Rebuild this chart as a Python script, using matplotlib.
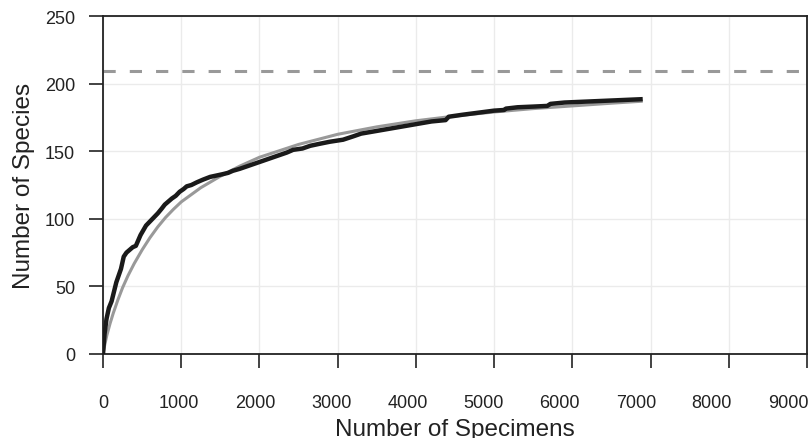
import matplotlib
matplotlib.use('Agg')
import matplotlib.pyplot as plt

# 累积曲线 (黑色) 数据
specimens = [0, 20, 45, 75, 110, 140, 170, 200, 230, 265, 300, 340, 380, 420, 450, 480, 510, 550, 600, 650,
             700, 750, 790, 840, 880, 930, 980, 1030, 1070, 1130, 1200, 1280, 1370, 1450, 1530, 1600, 1660, 1750, 1850, 1950,
             2050, 2150, 2250, 2350, 2430, 2550, 2650, 2771, 2900, 3069, 3200, 3300, 3450, 3600, 3750, 3900, 4050, 4200, 4380, 4420,
             4600, 4800, 5000, 5130, 5150, 5300, 5500, 5680, 5720, 5900, 6100, 6300, 6500, 6700, 6900]
species = [0, 15, 26, 34, 39, 46, 53, 58, 63, 72, 75, 77, 79, 80, 84, 88, 91, 95, 98, 101,
           104, 107.5, 110.5, 113, 115, 117, 120, 122, 124, 125, 127, 129, 131, 132, 133, 134, 135.5, 137, 139, 141,
           143, 145, 147, 149, 151, 152, 154, 155.5, 157, 158.5, 161, 163, 164.5, 166, 167.5, 169, 170.5, 172, 173, 175.5,
           177, 178.5, 180, 180.5, 181.5, 182.5, 183, 183.5, 185, 186, 186.5, 187, 187.5, 188, 188.5]

# 拟合曲线 (灰色)
fit_x = [0, 10, 25, 50, 90, 130, 190, 250, 320, 400, 500, 600, 700, 800, 900, 1000, 1250, 1500, 1750, 2000,
         2500, 3000, 3500, 4000, 4500, 5000, 5500, 6000, 6500, 6900]
fit_y = [0, 3, 7.5, 14, 22.5, 30, 40, 49, 58, 67, 77, 86, 94, 101, 107, 112.5, 123, 131.5, 139, 145.5,
         155, 162.5, 168, 172.5, 176, 179, 181.5, 183.5, 185.5, 187]

# 渐近线
asymptote = 209

x_ticks = [0, 1000, 2000, 3000, 4000, 5000, 6000, 7000, 8000, 9000]
x_labels = ['0', '1000', '2000', '3000', '4000', '5000', '6000', '7000', '8000', '9000']
y_ticks = [0, 50, 100, 150, 200, 250]

plt.rcParams['font.family'] = ['Liberation Sans', 'DejaVu Sans']

fig = plt.figure(figsize=(8.12, 4.39), dpi=100)
ax = fig.add_axes([103 / 812, 1 - 355 / 439, 704 / 812, 338 / 439])

ax.plot(fit_x, fit_y, color='#999999', linewidth=2.2, zorder=3, solid_capstyle='butt')
ax.plot(specimens, species, color='#1a1a1a', linewidth=3.2, zorder=4,
        solid_capstyle='butt', solid_joinstyle='round')
ax.axhline(asymptote, color='#999999', linewidth=2.2, linestyle=(0, (4, 4.6)), zorder=2)

ax.set_xlim(0, 9000)
ax.set_ylim(0, 250)
ax.set_yticks(y_ticks)

# 刻度线在主刻度上, 标签略微左移 (与原图一致), 用次刻度放标签
ax.xaxis.remove_overlapping_locs = False
ax.set_xticks(x_ticks)
ax.set_xticklabels([])
ax.set_xticks([v * 0.973 for v in x_ticks], minor=True)
ax.set_xticklabels(x_labels, minor=True)

# 网格线
ax.grid(True, which='major', color='#ebebeb', linewidth=1.0)
ax.set_axisbelow(True)

for side in ['left', 'right', 'top', 'bottom']:
    ax.spines[side].set_linewidth(1.3)
    ax.spines[side].set_color('#222222')

ax.tick_params(axis='both', which='major', direction='out', length=10, width=1.2, color='#222222',
               labelsize=13, labelcolor='#222222')
ax.tick_params(axis='x', which='minor', length=0, pad=28.5, labelsize=13, labelcolor='#222222')
ax.tick_params(axis='y', pad=10)

ax.set_xlabel('Number of Specimens', fontsize=17.5, color='#222222', labelpad=5)
ax.set_ylabel('Number of Species', fontsize=17.5, color='#222222', labelpad=7)

fig.savefig('out.png', dpi=100)
